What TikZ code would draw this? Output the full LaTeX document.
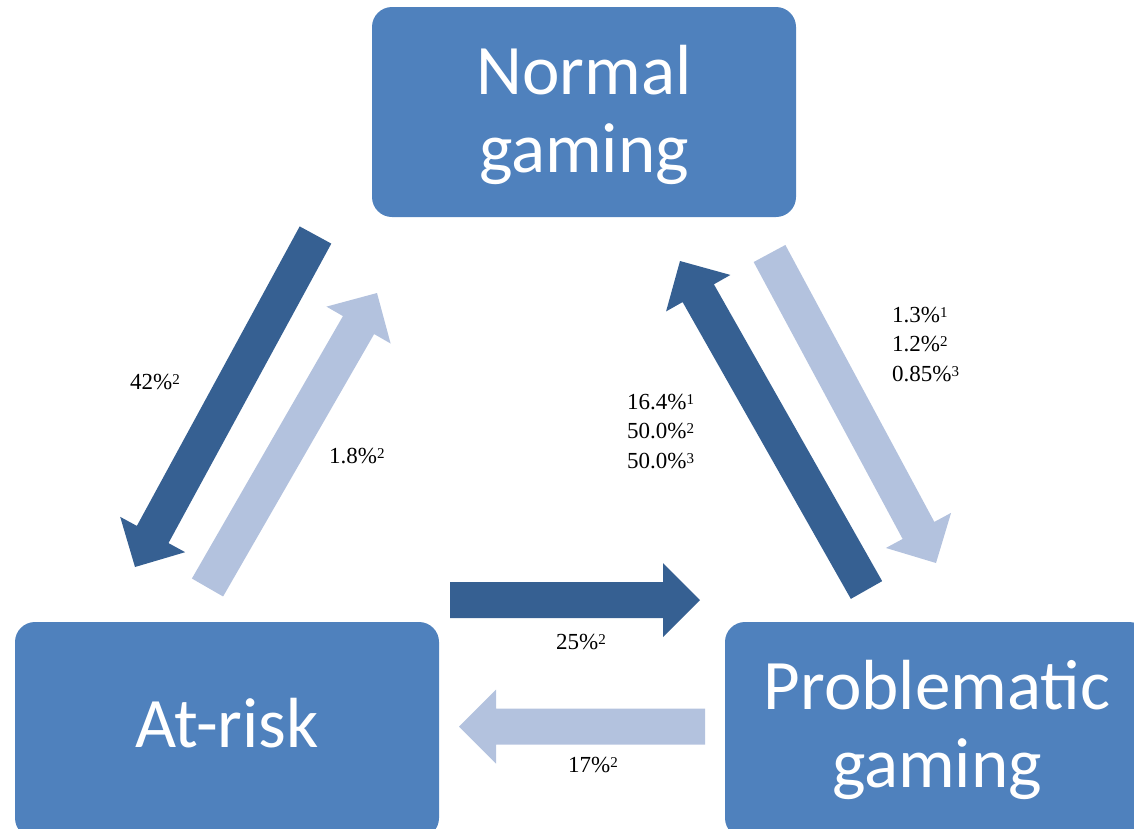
\documentclass[tikz,border=0pt]{standalone}
\usepackage{fontspec}
\setmainfont{Liberation Serif}
\newfontfamily\boxfont{Carlito}
\usetikzlibrary{calc}
\definecolor{boxblue}{HTML}{4F81BD}
\definecolor{flowdark}{HTML}{366092}
\definecolor{flowlight}{HTML}{B3C2DE}
\tikzset{
  state/.style={fill=boxblue, rounded corners=20pt, minimum width=424pt,
    inner sep=0pt, text=white, align=center,
    font=\boxfont\fontsize{71}{78}\selectfont},
  rate/.style={anchor=base west, inner sep=0pt, align=left, text=black,
    font=\fontsize{23}{29.5}\selectfont},
}
% small raised study index after a rate
\newcommand\ratesup[1]{\raisebox{5pt}{\fontsize{15}{15}\selectfont #1}}
% block arrow from a tail coordinate to a tip coordinate
\newcommand\blockarrow[3]{%
  \coordinate (ba-h) at ($(#2)!37pt!(#1)$);
  \fill[#3] ($(#1)!18pt!90:(#2)$) -- ($(ba-h)!18pt!90:(#2)$)
    -- ($(ba-h)!37pt!90:(#2)$) -- (#2) -- ($(ba-h)!37pt!-90:(#2)$)
    -- ($(ba-h)!18pt!-90:(#2)$) -- ($(#1)!18pt!-90:(#2)$) -- cycle;
}
\begin{document}
\begin{tikzpicture}[x=1pt, y=-1pt]
\useasboundingbox (0,0) rectangle (1134,828);
\clip (0,0) rectangle (1134,828);

% states
\node[state, minimum height=210pt, text depth=7pt] (normal) at (584,112) {Normal\\gaming};
\node[state, minimum height=216pt, text depth=15pt] (atrisk) at (227,730) {At-risk};
\node[state, minimum height=216pt] (problem) at (937,730) {Problematic\\gaming};

% arrow ends
\coordinate (na-tail) at (315.5,235);
\coordinate (na-tip)  at (135,567);
\coordinate (an-tail) at (207.5,587.5);
\coordinate (an-tip)  at (377,293);
\coordinate (pn-tail) at (866.5,590);
\coordinate (pn-tip)  at (680,261);
\coordinate (np-tail) at (769.5,253.5);
\coordinate (np-tip)  at (936,563);
\coordinate (ap-tail) at (450,600);
\coordinate (ap-tip)  at (700,600);
\coordinate (pa-tail) at (705,726.5);
\coordinate (pa-tip)  at (459,726.5);

% transitions
\blockarrow{na-tail}{na-tip}{flowdark}
\blockarrow{an-tail}{an-tip}{flowlight}
\blockarrow{pn-tail}{pn-tip}{flowdark}
\blockarrow{np-tail}{np-tip}{flowlight}
\blockarrow{ap-tail}{ap-tip}{flowdark}
\blockarrow{pa-tail}{pa-tip}{flowlight}

% transition rates (multi-line nodes sit on their last baseline)
\node[rate] (r-na) at (130,389) {42\%\ratesup{2}};
\node[rate] (r-an) at (329,463) {1.8\%\ratesup{2}};
\node[rate] (r-pn) at (627,468) {16.4\%\ratesup{1}\\50.0\%\ratesup{2}\\50.0\%\ratesup{3}};
\node[rate] (r-np) at (892,381) {1.3\%\ratesup{1}\\1.2\%\ratesup{2}\\0.85\%\ratesup{3}};
\node[rate] (r-ap) at (556,649) {25\%\ratesup{2}};
\node[rate] (r-pa) at (568,772) {17\%\ratesup{2}};
\end{tikzpicture}
\end{document}
